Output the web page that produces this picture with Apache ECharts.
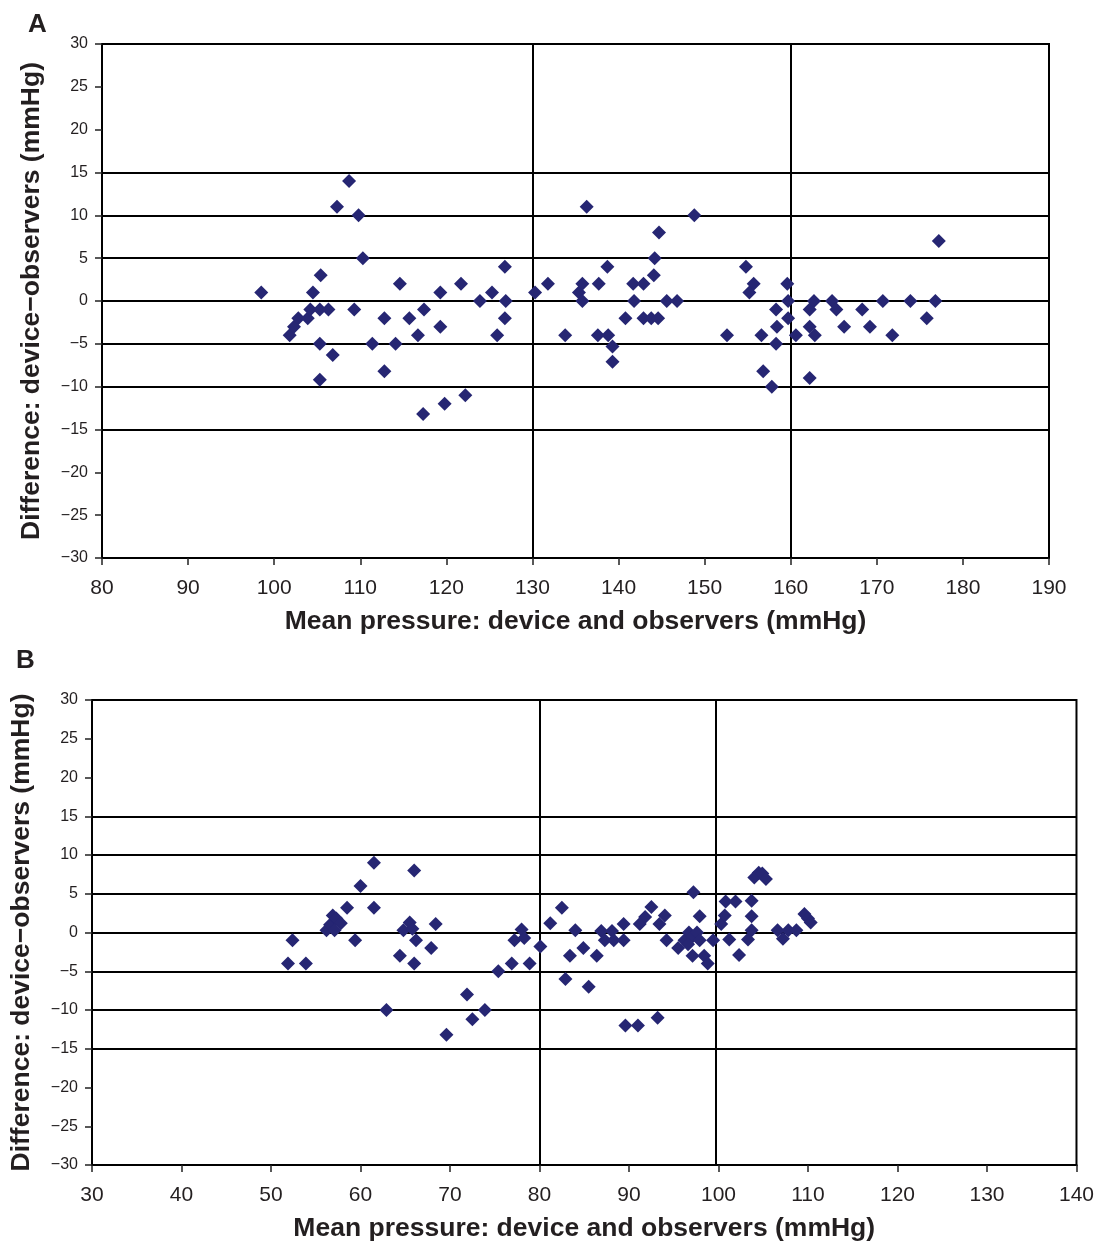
<!DOCTYPE html>
<html>
<head>
<meta charset="utf-8">
<script src="https://cdn.jsdelivr.net/npm/echarts@6/dist/echarts.min.js"></script>
<style>
  html, body { margin: 0; padding: 0; background: #fff; }
  #chart { width: 1097px; height: 1243px; }
</style>
</head>
<body>
<div id="chart"></div>
<script>
// Panel A: mean pressure vs difference
const meanA = [98.5, 101.8, 102.3, 102.8, 103.9, 104.5, 104.2, 105.3, 105.4, 105.3, 105.3, 106.3, 106.8,
  107.3, 108.7, 109.3, 109.8, 110.3, 111.4, 112.8, 112.8, 114.1, 114.6, 115.7, 116.7, 117.3, 117.4,
  119.3, 119.3, 119.8, 121.7, 122.2, 123.9, 125.3, 125.9, 126.8, 126.8, 126.9, 130.3, 131.8, 133.8,
  135.4, 135.8, 135.8, 136.3, 137.7, 137.6, 138.7, 138.8, 139.3, 139.3, 140.8, 141.7, 141.8, 142.9,
  142.9, 143.8, 144.1, 144.2, 144.7, 144.6, 145.6, 146.8, 148.8, 152.6, 154.8, 155.2, 155.7, 156.6,
  156.8, 157.8, 158.3, 158.3, 158.4, 159.6, 159.7, 159.7, 160.6, 162.2, 162.2, 162.2, 162.7, 162.8,
  164.8, 165.3, 166.2, 168.3, 169.2, 170.7, 171.8, 173.9, 175.8, 176.8, 177.2];
const diffA = [1, -4, -3, -2, -2, 1, -1, -1, 3, -5, -9.2, -1, -6.3,
  11, 14, -1, 10, 5, -5, -2, -8.2, -5, 2, -2, -4, -13.2, -1,
  -3, 1, -12, 2, -11, 0, 1, -4, 4, -2, 0, 1, 2, -4,
  1, 2, 0, 11, 2, -4, 4, -4, -5.3, -7.1, -2, 2, 0, -2,
  2, -2, 3, 5, 8, -2, 0, 0, 10, -4, 4, 1, 2, -4,
  -8.2, -10, -1, -5, -3, 2, 0, -2, -4, -1, -3, -9, 0, -4,
  0, -1, -3, -1, -3, 0, -4, 0, -2, 0, 7];

// Panel B
const meanB = [51.9, 52.4, 53.9, 56.2, 56.6, 56.9, 57.3, 57.8, 57.1, 58.5, 59.4, 60, 61.5, 61.5, 62.9,
  64.4, 64.8, 65.5, 65.8, 66.2, 66, 66, 67.9, 68.4, 69.6, 71.9, 72.5, 73.9, 75.4, 76.9, 77.2, 78,
  78.3, 78.9, 80.1, 81.2, 82.5, 82.9, 83.4, 84, 84.9, 85.5, 86.4, 86.9, 87.3, 88.1, 88.3, 89.4,
  89.4, 89.6, 91, 91.2, 91.8, 92.5, 93.2, 93.4, 94, 94.2, 95.5, 96.2, 96.7, 97.1, 97.6, 97.9,
  96.6, 97.1, 98.4, 98.8, 99.4, 97.2, 97.9, 100.3, 100.7, 100.8, 101.9, 101.2, 102.3, 103.7,
  103.7, 103.7, 103.3, 104, 104.5, 104.9, 105.3, 106.6, 107.2, 107.8, 108.7, 109.6, 110, 110.3];
const diffB = [-4, -1, -4, 0.3, 1, 2.2, 1.8, 1.2, 0.3, 3.2, -1, 6, 9, 3.2, -10,
  -3, 0.3, 1.3, 0.5, -1, 8, -4, -2, 1.1, -13.2, -8, -11.2, -10, -5, -4, -1, 0.4,
  -0.7, -4, -1.8, 1.2, 3.2, -6, -3, 0.3, -2, -7, -3, 0.2, -1, 0.2, -1, 1.1,
  -1, -12, -12, 1.1, 2, 3.3, -11, 1.1, 2.2, -1, -2, -1, 0, -0.5, 0, -1,
  -1.5, -3, -3, -4, -1, 5.2, 2.1, 1.1, 2.2, 4, 4, -0.9, -2.9, 4.1,
  2.1, 0.3, -0.9, 7.1, 7.7, 7.6, 6.9, 0.3, -0.8, 0.3, 0.3, 2.4, 1.8, 1.3];

const refLinesY = [15, 10, 5, 0, -5, -10, -15];
const refLinesXA = [130, 160];
const refLinesXB = [80, 99.7];
const xRangeA = [80, 190];
const xRangeB = [30, 140];
const yRange = [-30, 30];

const xName = 'Mean pressure: device and observers (mmHg)';
const yName = 'Difference: device\u2212observers (mmHg)';
const ink = '#000';
const textInk = '#231f20';
const dotColor = '#262673';
const font = '"Liberation Sans", Arial, sans-serif';

function xAxisFor(idx, range) {
  return {
    gridIndex: idx, type: 'value', min: range[0], max: range[1], interval: 10,
    name: xName, nameLocation: 'middle', nameGap: 50,
    nameTextStyle: { fontFamily: font, fontWeight: 'bold', fontSize: 26.5, color: textInk },
    axisLine: { onZero: false, lineStyle: { color: ink, width: 2 } },
    axisTick: { inside: false, length: 7, lineStyle: { color: '#222', width: 1.5 } },
    axisLabel: { margin: 20, fontFamily: font, fontSize: 21, color: textInk },
    splitLine: { show: false }
  };
}
function yAxisFor(idx) {
  return {
    gridIndex: idx, type: 'value', min: yRange[0], max: yRange[1], interval: 5,
    name: yName, nameLocation: 'middle', nameGap: 57, nameRotate: 90,
    nameTextStyle: { fontFamily: font, fontWeight: 'bold', fontSize: 26.5, color: textInk },
    axisLine: { onZero: false, lineStyle: { color: ink, width: 2 } },
    axisTick: { inside: false, length: 7, lineStyle: { color: '#222', width: 1.5 } },
    axisLabel: { margin: 14, fontFamily: font, fontSize: 16, color: textInk,
      formatter: v => String(v).replace('-', '\u2212') },
    splitLine: { show: false }
  };
}
function scatterFor(idx, xs, ys, vlines) {
  const lines = refLinesY.map(v => ({ yAxis: v })).concat(vlines.map(v => ({ xAxis: v })));
  return {
    type: 'scatter', xAxisIndex: idx, yAxisIndex: idx,
    symbol: 'diamond', symbolSize: 14,
    itemStyle: { color: dotColor, opacity: 1 },
    data: xs.map((x, i) => [x, ys[i]]),
    z: 3,
    markLine: {
      silent: true, symbol: 'none', animation: false, z: 1,
      label: { show: false },
      lineStyle: { color: ink, width: 2, type: 'solid' },
      data: lines
    }
  };
}

const chart = echarts.init(document.getElementById('chart'), null, { renderer: 'canvas' });
chart.setOption({
  animation: false,
  backgroundColor: '#fff',
  grid: [
    { left: 102, top: 44, width: 947, height: 514, show: true, borderColor: ink, borderWidth: 2 },
    { left: 91, top: 700, width: 989, height: 468, show: true, borderColor: ink, borderWidth: 2 }
  ],
  xAxis: [xAxisFor(0, xRangeA), xAxisFor(1, xRangeB)],
  yAxis: [yAxisFor(0), yAxisFor(1)],
  graphic: [
    { type: 'text', left: 28, top: 12, style: { text: 'A', font: 'bold 26px ' + font, fill: textInk } },
    { type: 'text', left: 16, top: 648, style: { text: 'B', font: 'bold 26px ' + font, fill: textInk } }
  ],
  series: [
    scatterFor(0, meanA, diffA, refLinesXA),
    scatterFor(1, meanB, diffB, refLinesXB)
  ]
});
</script>
</body>
</html>
